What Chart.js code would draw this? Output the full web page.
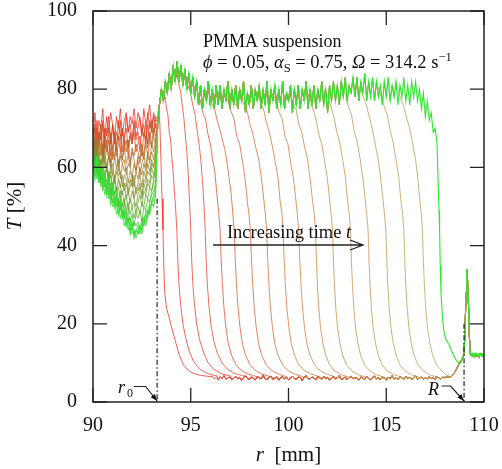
<!DOCTYPE html>
<html><head><meta charset="utf-8">
<script src="https://cdn.jsdelivr.net/npm/chart.js@4/dist/chart.umd.min.js"></script>
<style>html,body{margin:0;padding:0;background:#fff}</style>
</head><body>
<canvas id="c" width="502" height="469"></canvas>
<script>
// ---------------- DATA ----------------
// x grid of the meniscus region (90.0 ... 93.2 mm, 0.1 mm steps)
const leftR = Array.from({length: 33}, (_, j) => +(90 + j * 0.1).toFixed(2));
// transmission T [%] of each profile in the meniscus region (earliest red -> latest green)
const meniscusT = [
 [68,74,66,72,70,75,67,73,69,74,71,66,73,70,75,68,72,74,69,73,71,75,70,74,72,68,75,71,73,76,70,74,72],
 [70,65,72,67,71,63,70,68,73,66,71,69,64,72,68,70,66,73,69,71,67,72,68,70,73,69,71,67,74,70,72,69,73],
 [66,71,64,69,67,72,65,70,68,63,71,66,69,67,72,64,68,70,65,69,66,71,67,69,64,70,68,71,66,72,69,73,70],
 [69,64,70,66,71,63,68,65,70,67,62,69,66,68,64,70,65,67,63,68,66,69,64,66,68,63,69,66,71,67,70,68,72],
 [66,70,63,68,65,71,64,67,62,69,65,67,63,66,68,62,66,64,67,61,65,63,66,64,62,66,63,68,65,69,66,70,68],
 [68,63,67,65,69,62,66,64,67,61,65,63,66,60,64,62,65,61,63,60,64,62,59,63,61,64,62,66,63,67,65,68,66],
 [64,68,62,67,63,66,61,65,63,60,64,62,65,59,63,61,62,58,61,60,57,61,59,62,58,61,63,60,64,62,66,64,67],
 [66,62,67,63,65,61,64,60,63,62,58,63,60,62,57,61,59,60,56,59,58,55,59,57,60,58,61,59,63,61,64,62,65],
 [63,67,61,65,60,64,62,59,63,60,61,57,60,58,59,55,58,57,54,57,55,58,53,56,58,55,59,57,61,59,62,60,64],
 [65,61,64,62,59,63,60,61,57,60,58,56,59,57,55,58,54,56,53,55,57,52,55,54,56,53,57,56,59,58,61,60,63],
 [62,65,60,63,59,62,58,60,57,59,55,58,54,57,55,53,56,52,54,51,54,52,50,53,55,52,56,54,57,56,60,58,61],
 [64,60,63,58,62,59,57,60,56,58,54,57,53,55,52,54,51,53,49,52,50,51,48,51,53,50,54,53,56,55,58,57,60],
 [61,64,59,62,57,60,58,55,59,54,56,53,55,51,54,50,52,49,51,48,50,47,49,50,48,51,50,53,52,55,54,57,59],
 [63,59,62,57,60,56,58,54,57,53,55,52,53,50,52,48,51,47,49,46,48,45,48,47,49,46,50,49,52,51,54,56,57],
 [60,63,58,61,56,59,55,57,53,56,51,54,50,52,49,51,47,49,46,47,44,46,45,46,44,47,46,49,48,51,53,54,56],
 [62,58,61,56,59,54,57,53,55,51,54,50,52,48,50,47,48,45,47,44,45,43,44,45,43,46,45,48,47,50,51,53,55],
 [59,62,57,60,55,58,53,56,52,54,50,52,48,51,47,49,45,47,44,46,43,44,42,44,45,43,46,45,48,49,51,52,54],
 [61,57,63,56,60,55,58,53,57,51,55,50,53,48,51,47,49,45,47,43,46,42,44,43,45,44,47,46,49,48,51,50,53]
];
// top of the steep rise at r0
const riseTop = [93.32, 72];
// clear supernatant plateau T [%], from 93.4 mm in 0.1 mm steps
const plateauR0 = 93.4;
const plateauT = [
 76,80,77,82,79,84,80,86,82,87, 82,86,81,85,80,84,79,83,78,82,
 76,81,75,80,77,82,76,80,75,81, 76,81,75,80,77,82,75,80,76,81,
 75,80,77,82,74,79,76,81,75,80, 77,81,75,80,76,82,74,80,77,81,
 75,80,76,82,75,79,77,81,74,80, 76,81,75,80,77,82,75,80,76,81,
 75,80,77,82,76,80,74,81,77,82, 77,81,76,82,78,83,77,81,79,83,
 78,83,77,82,79,84,77,82,78,83, 77,82,78,81,76,82,78,83,77,81,
 78,82,76,81,78,83,77,81,76,82, 78,82,77,80,75,79,73,77,72,74,
 69,70,66
];
// sediment floor T [%], from 94.0 mm in 0.1 mm steps
const floorR0 = 94.0;
const floorT = [
 6.3,5.8,6.6,6.0,5.6,6.4,6.1,5.7,6.8,6.2, 5.9,6.5,6.0,5.5,6.3,6.7,5.8,6.1,6.4,5.7,
 6.2,6.6,5.9,6.3,5.6,6.5,6.0,6.8,5.8,6.2, 6.4,5.7,6.1,6.6,5.9,6.3,5.5,6.2,6.7,6.0,
 5.8,6.4,6.1,5.6,6.5,6.2,5.9,6.8,6.0,5.7, 6.3,6.6,5.8,6.1,6.4,5.6,6.2,6.5,5.9,6.3,
 5.7,6.1,6.6,6.0,5.8,6.4,6.2,5.5,6.3,6.7, 6.0,5.9,6.4,6.1,5.7,6.5,6.2,5.8,6.6,6.0,
 6.3,5.6,6.1,6.5,5.9,6.2,6.7,5.8,6.0,6.4, 5.7,6.2,6.6,5.9,6.3,6.0,5.6,6.4,6.1,5.8,
 6.5,6.0,5.7,6.3,6.6,5.9,6.2,5.8,6.4,6.1, 5.6,6.3,6.0,6.7,5.9,6.2,5.7,6.4,6.1,5.8,
 6.5,6.0,6.3,5.7,6.2,6.6,5.9,6.1,6.4,5.8, 6.2,5.9,6.5,6.0,6.3,5.8,6.6,6.1,5.9,6.4,
 6.2,6.5,6.3
];
// cell bottom (R) region shared by all profiles
const tailR = [108.3,108.4,108.5,108.6,108.7,108.8,108.9,108.97,109.03,109.08,109.12,109.16,109.2,109.25,109.3,109.35,109.4,109.45,109.5,109.55,109.6,109.65,109.7,109.75,109.8,109.85,109.9,109.95,110];
const tailT = [6.4,6.9,7.6,8.5,9.5,10.4,11.2,12,18,28,34,31,26,17,12.5,11.8,12.4,11.6,12.3,11.5,12.5,11.7,12.2,11.4,12.4,11.8,12.3,11.6,12.1];
// descending front of each profile [r mm, T %]
const descents = [
 [[93.3,72],[93.36,76],[93.42,71],[93.48,61],[93.53,52],[93.58,44],[93.62,35],[93.67,28],[93.76,24],[93.9,21.5],[94.05,18.5],[94.2,15.8],[94.4,12.2],[94.63,9.4],[94.9,8.0],[95.14,7.3],[95.5,6.8],[96.0,6.5]],
 [[93.69,78],[93.76,75],[93.83,73.5],[93.9,69],[93.97,67],[94.04,62],[94.1,59],[94.16,54],[94.22,50],[94.29,44],[94.34,36],[94.4,30],[94.48,25],[94.6,20],[94.75,16.2],[94.92,13],[95.15,10.3],[95.45,8.4],[95.85,7.3],[96.35,6.6]],
 [[94.3,84],[94.4,81],[94.48,79.5],[94.56,76],[94.64,73],[94.72,68.5],[94.8,64],[94.87,58.5],[94.94,51],[95.0,44],[95.05,36],[95.11,30],[95.19,25],[95.3,20],[95.45,16],[95.63,13],[95.87,10.2],[96.15,8.5],[96.55,7.3],[97.05,6.6]],
 [[94.85,81],[94.97,79.5],[95.1,76],[95.22,73.5],[95.34,69],[95.45,65],[95.54,60.5],[95.62,55],[95.68,50],[95.74,44],[95.79,36],[95.85,30],[95.93,24.5],[96.04,19.5],[96.18,15.5],[96.36,12.5],[96.6,10],[96.88,8.4],[97.25,7.3],[97.72,6.6]],
 [[95.35,78.5],[95.5,77],[95.62,74],[95.75,72.5],[95.88,68.5],[96.0,66],[96.12,62],[96.24,58.5],[96.34,53],[96.42,49],[96.5,44],[96.56,36],[96.62,30],[96.7,24],[96.8,19],[96.92,15],[97.08,12],[97.3,9.6],[97.55,8.2],[97.9,7.2],[98.35,6.5]],
 [[95.95,78],[96.08,76.5],[96.22,75],[96.35,72],[96.5,69.5],[96.62,67],[96.75,64.5],[96.86,61],[96.97,57],[97.06,53.5],[97.14,49],[97.22,44],[97.28,36],[97.34,30],[97.42,24],[97.52,19],[97.64,15],[97.8,12],[98.02,9.6],[98.27,8.2],[98.62,7.2],[99.07,6.5]],
 [[96.75,78.5],[96.9,77],[97.05,74.5],[97.2,72.5],[97.35,68],[97.5,66],[97.65,61.5],[97.78,57],[97.9,51],[97.98,48],[98.05,44],[98.11,36],[98.17,30],[98.25,24],[98.35,19],[98.47,15],[98.63,12],[98.85,9.6],[99.1,8.2],[99.45,7.2],[99.9,6.5]],
 [[97.58,78],[97.73,76],[97.88,74.5],[98.03,71],[98.18,68.5],[98.33,65],[98.48,62],[98.62,57],[98.74,51.5],[98.82,48],[98.88,44],[98.94,36],[99.0,30],[99.08,24],[99.18,19],[99.3,15],[99.46,12],[99.68,9.6],[99.93,8.2],[100.28,7.2],[100.73,6.5]],
 [[98.42,79],[98.57,76.5],[98.72,75],[98.87,71.5],[99.02,69],[99.17,65.5],[99.32,61.5],[99.46,57.5],[99.58,51],[99.66,48.5],[99.72,44],[99.78,36],[99.84,30],[99.92,24],[100.02,19],[100.14,15],[100.3,12],[100.52,9.6],[100.77,8.2],[101.12,7.2],[101.57,6.5]],
 [[99.22,78.5],[99.37,77],[99.52,74],[99.67,72.5],[99.82,68],[99.97,66],[100.12,61],[100.26,57],[100.38,51.5],[100.46,47.5],[100.52,44],[100.58,36],[100.64,30],[100.72,24],[100.82,19],[100.94,15],[101.1,12],[101.32,9.6],[101.57,8.2],[101.92,7.2],[102.37,6.5]],
 [[100.08,79],[100.23,76.5],[100.38,75],[100.53,71],[100.68,69],[100.83,65],[100.98,62],[101.12,56.5],[101.24,51],[101.32,48],[101.38,44],[101.43,36],[101.48,30],[101.55,24],[101.64,19],[101.76,15],[101.9,12],[102.1,9.5],[102.36,8],[102.68,7],[103.08,6.4]],
 [[100.95,79.5],[101.1,77.5],[101.25,75],[101.4,72.5],[101.55,68.5],[101.7,66],[101.85,61.5],[101.99,57],[102.11,51.5],[102.19,47.5],[102.25,44],[102.3,36],[102.35,30],[102.42,24],[102.51,19],[102.63,15],[102.77,12],[102.97,9.5],[103.23,8],[103.55,7],[103.95,6.4]],
 [[101.87,80],[102.02,78],[102.17,75.5],[102.32,73],[102.47,69],[102.62,66.5],[102.77,62],[102.91,57.5],[103.03,51],[103.11,48],[103.17,44],[103.22,36],[103.27,30],[103.34,24],[103.43,19],[103.55,15],[103.69,12],[103.89,9.5],[104.15,8],[104.47,7],[104.87,6.4]],
 [[102.77,80],[102.92,78.5],[103.07,75.5],[103.22,73.5],[103.37,69],[103.52,66.5],[103.67,62],[103.81,57],[103.93,51.5],[104.01,47.5],[104.07,44],[104.12,36],[104.17,30],[104.24,24],[104.33,19],[104.45,15],[104.59,12],[104.79,9.5],[105.05,8],[105.37,7],[105.77,6.4]],
 [[103.68,80.5],[103.83,78],[103.98,76],[104.13,73],[104.28,70],[104.43,66],[104.58,62.5],[104.72,57],[104.84,51.5],[104.92,47.5],[104.98,44],[105.03,36],[105.08,30],[105.15,24],[105.24,19],[105.36,15],[105.5,12],[105.7,9.5],[105.96,8],[106.28,7],[106.68,6.4]],
 [[104.6,80],[104.75,78],[104.9,75.5],[105.05,73.5],[105.2,69.5],[105.35,66.5],[105.5,62],[105.64,57.5],[105.76,51],[105.84,48],[105.9,44],[105.95,36],[106.0,30],[106.07,24],[106.16,19],[106.28,15],[106.42,12],[106.62,9.5],[106.88,8],[107.2,7],[107.6,6.4]],
 [[105.6,79.5],[105.75,77.5],[105.9,75.5],[106.05,72.5],[106.2,70],[106.35,66],[106.5,62],[106.62,57],[106.73,51],[106.8,47.5],[106.85,44],[106.9,36],[106.95,30],[107.02,24],[107.11,19],[107.23,15],[107.37,12],[107.57,9.5],[107.83,8],[108.05,7],[108.2,6.6]],
 [[107.65,57],[107.7,49],[107.73,44],[107.76,35],[107.8,28],[107.87,22],[107.94,18.4],[108.05,16],[108.2,14.8],[108.35,13],[108.5,11.3],[108.63,10.3],[108.75,9.8],[108.85,10.2]]
];
const xTicks = [90, 95, 100, 105, 110];
const yTicks = [0, 20, 40, 60, 80, 100];
const r0 = 93.28, Rcell = 108.98;

// ---------------- STYLE ----------------
const colors = ['#ee2a1c','#ec3020','#e93822','#e64024','#e24a28','#dd542c','#d85e30','#d36834',
 '#cf7238','#cb7a3c','#c88240','#c58944','#c28e48','#c0924c','#bc9650','#b99a54','#b59c58','#2ee62e'];
// colours of the same profiles inside the meniscus region (red -> green fan)
const fanColors = ['#e82a1a','#e0341a','#d6401c','#cc4c1e','#c05a20','#b46622','#a87024','#9c7a26',
 '#908428','#848c2a','#76962a','#68a02a','#5aaa2a','#4cb42a','#40be2a','#36c82a','#30d42c','#2ee62e'];
const SERIF = '"Liberation Serif","Times New Roman",serif';

function buildCurve(k) {
  const pts = leftR.map((r, j) => ({x: r, y: meniscusT[k][j]}));
  const d = descents[k];
  const dStart = d[0][0], dEnd = d[d.length - 1][0];
  if (dStart > riseTop[0]) {
    pts.push({x: riseTop[0], y: riseTop[1]});
    plateauT.forEach((t, i) => { const r = +(plateauR0 + i * 0.1).toFixed(2); if (r < dStart) pts.push({x: r, y: t}); });
  }
  d.forEach(p => pts.push({x: p[0], y: p[1]}));
  floorT.forEach((t, i) => { const r = +(floorR0 + i * 0.1).toFixed(2); if (r > dEnd) pts.push({x: r, y: t}); });
  tailR.forEach((r, i) => { if (r > dEnd) pts.push({x: r, y: tailT[i]}); });
  return pts;
}

const datasets = descents.map((_, k) => ({
  data: buildCurve(k), borderColor: colors[k], borderWidth: k === 17 ? 1.1 : 0.75,
  pointRadius: 0, tension: 0, fill: false, order: 17 - k,
  segment: {borderColor: c => (c.p1.parsed.x <= 93.25 ? fanColors[k] : undefined)}
}));

function runs(ctx, parts, x, y) {
  let cx = x;
  parts.forEach(p => { ctx.font = p.f; ctx.fillText(p.t, cx, y + (p.dy || 0)); cx += ctx.measureText(p.t).width; });
  return cx;
}
function runsWidth(ctx, parts) {
  let w = 0; parts.forEach(p => { ctx.font = p.f; w += ctx.measureText(p.t).width; }); return w;
}

const decor = {
  id: 'decor',
  afterDraw(chart) {
    const ctx = chart.ctx, xs = chart.scales.x, ys = chart.scales.y, a = chart.chartArea;
    ctx.save();
    ctx.strokeStyle = '#222'; ctx.fillStyle = '#111';
    // frame
    ctx.lineWidth = 1.5;
    ctx.strokeRect(a.left, a.top, a.right - a.left, a.bottom - a.top);
    // inward ticks on all sides
    ctx.lineWidth = 1.3;
    const TL = 14;
    ctx.beginPath();
    xTicks.forEach(v => { const px = xs.getPixelForValue(v);
      ctx.moveTo(px, a.bottom); ctx.lineTo(px, a.bottom - TL);
      ctx.moveTo(px, a.top); ctx.lineTo(px, a.top + TL); });
    yTicks.forEach(v => { const py = ys.getPixelForValue(v);
      ctx.moveTo(a.left, py); ctx.lineTo(a.left + TL, py);
      ctx.moveTo(a.right, py); ctx.lineTo(a.right - TL, py); });
    ctx.stroke();
    // tick labels
    ctx.font = '20px ' + SERIF; ctx.textBaseline = 'middle';
    ctx.textAlign = 'center';
    xTicks.forEach(v => ctx.fillText(String(v), xs.getPixelForValue(v), a.bottom + 24));
    ctx.textAlign = 'right';
    yTicks.forEach(v => ctx.fillText(String(v), a.left - 16, ys.getPixelForValue(v)));
    ctx.textAlign = 'left'; ctx.textBaseline = 'alphabetic';
    // axis titles
    const xt = [{t: 'r', f: 'italic 21px ' + SERIF}, {t: '  [mm]', f: '21px ' + SERIF}];
    const xw = runsWidth(ctx, xt);
    runs(ctx, xt, (a.left + a.right) / 2 - xw / 2, 461);
    const yt = [{t: 'T', f: 'italic 21px ' + SERIF}, {t: ' [%]', f: '21px ' + SERIF}];
    const yw = runsWidth(ctx, yt);
    ctx.save(); ctx.translate(21, 206); ctx.rotate(-Math.PI / 2);
    runs(ctx, yt, -yw / 2, 0); ctx.restore();
    // annotation text
    const tx = xs.getPixelForValue(95.63);
    ctx.font = '18px ' + SERIF;
    ctx.fillText('PMMA suspension', tx, ys.getPixelForValue(90.8));
    runs(ctx, [
      {t: '\u03D5', f: 'italic 18.5px ' + SERIF}, {t: ' = 0.05, ', f: '18.5px ' + SERIF},
      {t: '\u03B1', f: 'italic 18.5px ' + SERIF}, {t: 'S', f: '12.5px ' + SERIF, dy: 4},
      {t: ' = 0.75, ', f: '18.5px ' + SERIF}, {t: '\u03A9', f: 'italic 18.5px ' + SERIF},
      {t: ' = 314.2 s', f: '18.5px ' + SERIF}, {t: '\u22121', f: '12.5px ' + SERIF, dy: -7}
    ], tx, ys.getPixelForValue(85.3));
    // increasing time arrow
    runs(ctx, [{t: 'Increasing time ', f: '18.5px ' + SERIF}, {t: 't', f: 'italic 18.5px ' + SERIF}],
      xs.getPixelForValue(96.85), ys.getPixelForValue(41.9));
    const ay = ys.getPixelForValue(40.15), ax1 = xs.getPixelForValue(96.14), ax2 = xs.getPixelForValue(103.81);
    ctx.lineWidth = 1.3;
    ctx.beginPath(); ctx.moveTo(ax1, ay); ctx.lineTo(ax2, ay);
    ctx.moveTo(ax2 - 13, ay - 5); ctx.lineTo(ax2, ay); ctx.lineTo(ax2 - 13, ay + 5); ctx.stroke();
    // dash-dot markers at r0 and R
    ctx.lineWidth = 1.2; ctx.setLineDash([5, 2.5, 1.5, 2.5]);
    ctx.beginPath();
    ctx.moveTo(xs.getPixelForValue(r0), ys.getPixelForValue(52)); ctx.lineTo(xs.getPixelForValue(r0), ys.getPixelForValue(0));
    ctx.moveTo(xs.getPixelForValue(Rcell), ys.getPixelForValue(20)); ctx.lineTo(xs.getPixelForValue(Rcell), ys.getPixelForValue(0));
    ctx.stroke(); ctx.setLineDash([]);
    // bent pointer arrows with labels
    function pointer(tipX, tipY, elbowDx, startDx, dy) {
      ctx.lineWidth = 1.2;
      ctx.beginPath(); ctx.moveTo(tipX + startDx, tipY + dy); ctx.lineTo(tipX + elbowDx, tipY + dy); ctx.lineTo(tipX, tipY); ctx.stroke();
      const ang = Math.atan2(-dy, -elbowDx), L = 7, W = 2.6;
      const bx = tipX - L * Math.cos(ang), by = tipY - L * Math.sin(ang);
      ctx.beginPath(); ctx.moveTo(tipX, tipY);
      ctx.lineTo(bx - W * Math.sin(ang), by + W * Math.cos(ang));
      ctx.lineTo(bx + W * Math.sin(ang), by - W * Math.cos(ang)); ctx.closePath(); ctx.fill();
    }
    const t0x = xs.getPixelForValue(r0), t0y = ys.getPixelForValue(0) - 1;
    pointer(t0x, t0y, -11.5, -23.5, -14.5);
    runs(ctx, [{t: 'r', f: 'italic 18px ' + SERIF}], t0x - 39, t0y - 8);
    runs(ctx, [{t: '0', f: '12px ' + SERIF}], t0x - 30, t0y - 4);
    const tRx = xs.getPixelForValue(Rcell), tRy = ys.getPixelForValue(0) - 1;
    pointer(tRx, tRy, -13.5, -22.5, -15);
    runs(ctx, [{t: 'R', f: 'italic 18px ' + SERIF}], tRx - 36, tRy - 6);
    ctx.restore();
  }
};

new Chart(document.getElementById('c'), {
  type: 'line',
  data: {datasets},
  options: {
    responsive: false, animation: false, devicePixelRatio: 1,
    layout: {padding: {left: 0, right: 18, top: 11, bottom: 0}},
    plugins: {legend: {display: false}, tooltip: {enabled: false}},
    scales: {
      x: {type: 'linear', min: 90, max: 110, ticks: {display: false, stepSize: 5},
          grid: {display: false}, border: {display: false}, afterFit(s) { s.height = 67; }},
      y: {type: 'linear', min: 0, max: 100, ticks: {display: false, stepSize: 20},
          grid: {display: false}, border: {display: false}, afterFit(s) { s.width = 93; }}
    }
  },
  plugins: [decor]
});
</script>
</body></html>
